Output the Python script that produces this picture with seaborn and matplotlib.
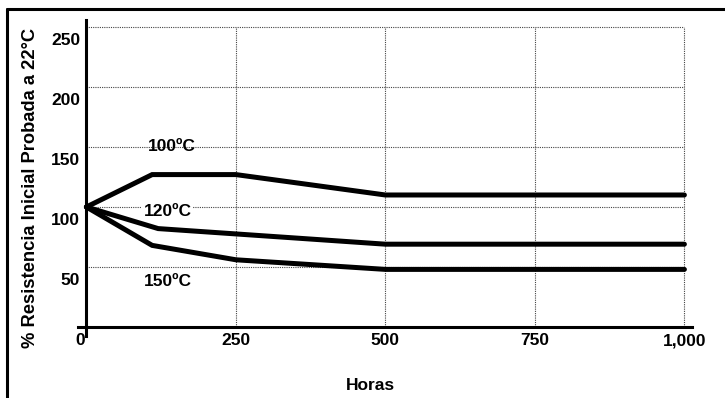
import numpy as np
import pandas as pd
import matplotlib
matplotlib.use("Agg")
import matplotlib.pyplot as plt
from matplotlib.transforms import ScaledTranslation
from matplotlib.lines import Line2D
import seaborn as sns

# ---- data ----
hours_100 = [0, 110, 250, 500, 1000]
res_100 = [100, 127, 127, 110, 110]
hours_120 = [0, 120, 500, 1000]
res_120 = [100, 82, 69, 69]
hours_150 = [0, 110, 250, 500, 1000]
res_150 = [100, 68, 56, 48, 48]
series_labels = ["100ºC", "120ºC", "150ºC"]
x_ticks = [0, 250, 500, 750, 1000]
x_ticklabels = ["0", "250", "500", "750", "1,000"]
y_ticks = [50, 100, 150, 200, 250]
y_ticklabels = ["50", "100", "150", "200", "250"]

df = pd.concat([
    pd.DataFrame({"Horas": hours_100, "Res": res_100, "Serie": series_labels[0]}),
    pd.DataFrame({"Horas": hours_120, "Res": res_120, "Serie": series_labels[1]}),
    pd.DataFrame({"Horas": hours_150, "Res": res_150, "Serie": series_labels[2]}),
], ignore_index=True)

sns.set_style("white")
plt.rcParams["font.family"] = ["Liberation Sans", "DejaVu Sans"]
plt.rcParams["font.weight"] = "bold"
plt.rcParams["lines.solid_joinstyle"] = "miter"
for k in ["text.color", "xtick.color", "ytick.color", "axes.labelcolor"]:
    plt.rcParams[k] = "black"
FS = 12.5

fig = plt.figure(figsize=(7.25, 3.98), dpi=100)
ax = fig.add_axes([0.1076, 0.1558, 0.8463, 0.7945])

# grid (dotted)
grid_kw = dict(color="#444444", lw=0.8, linestyles=(0, (1, 1)), zorder=1)
ax.hlines(y_ticks, 0, 1000, **grid_kw)
ax.vlines(x_ticks[1:], 0, 250, **grid_kw)

sns.lineplot(data=df, x="Horas", y="Res", hue="Serie", units="Serie",
             estimator=None, sort=False,
             palette=["black"] * 3, lw=3.6, legend=False, ax=ax, zorder=3)

ax.set_xlim(-14, 1012)
ax.set_ylim(-7.5, 256)

for s in ["top", "right"]:
    ax.spines[s].set_visible(False)
ax.spines["left"].set_position(("data", 0))
ax.spines["bottom"].set_position(("data", 0))
for s in ["left", "bottom"]:
    ax.spines[s].set_linewidth(2.2)
    ax.spines[s].set_color("black")
    ax.spines[s].set_zorder(4)

ax.set_xticks(x_ticks)
ax.set_xticklabels(x_ticklabels, fontsize=FS, fontweight="bold")
ax.set_yticks(y_ticks)
ax.set_yticklabels(y_ticklabels, fontsize=FS, fontweight="bold")
ax.tick_params(axis="both", length=0, colors="black")
ax.tick_params(axis="x", pad=4.5)
ax.tick_params(axis="y", pad=4.5)

for lab in ax.get_yticklabels():
    lab.set_transform(lab.get_transform() + ScaledTranslation(0, -12 / 100, fig.dpi_scale_trans))
xl = ax.get_xticklabels()
xl[0].set_transform(xl[0].get_transform() + ScaledTranslation(-6 / 100, 0, fig.dpi_scale_trans))

ax.set_xlabel("Horas", fontsize=FS, fontweight="bold")
ax.xaxis.set_label_coords(0.476, -0.133)
ax.set_ylabel("% Resistencia Inicial Probada a 22°C", fontsize=13.2, fontweight="bold")
ax.yaxis.set_label_coords(-0.063, 0.468)

# series labels
ax.text(143, 150, series_labels[0], fontsize=FS, fontweight="bold", ha="center", va="center", zorder=5)
ax.text(136, 96, series_labels[1], fontsize=FS, fontweight="bold", ha="center", va="center", zorder=5,
        bbox=dict(facecolor="white", edgecolor="none", pad=1))
ax.text(136, 38, series_labels[2], fontsize=FS, fontweight="bold", ha="center", va="center", zorder=5)

# figure border (top and left visible)
fig.add_artist(Line2D([7 / 725, 1.0], [1 - 9 / 398, 1 - 9 / 398], color="black", lw=2.2,
                      transform=fig.transFigure))
fig.add_artist(Line2D([7 / 725, 7 / 725], [0.0, 1 - 9 / 398], color="black", lw=2.2,
                      transform=fig.transFigure))

fig.savefig("out.png", dpi=100)
